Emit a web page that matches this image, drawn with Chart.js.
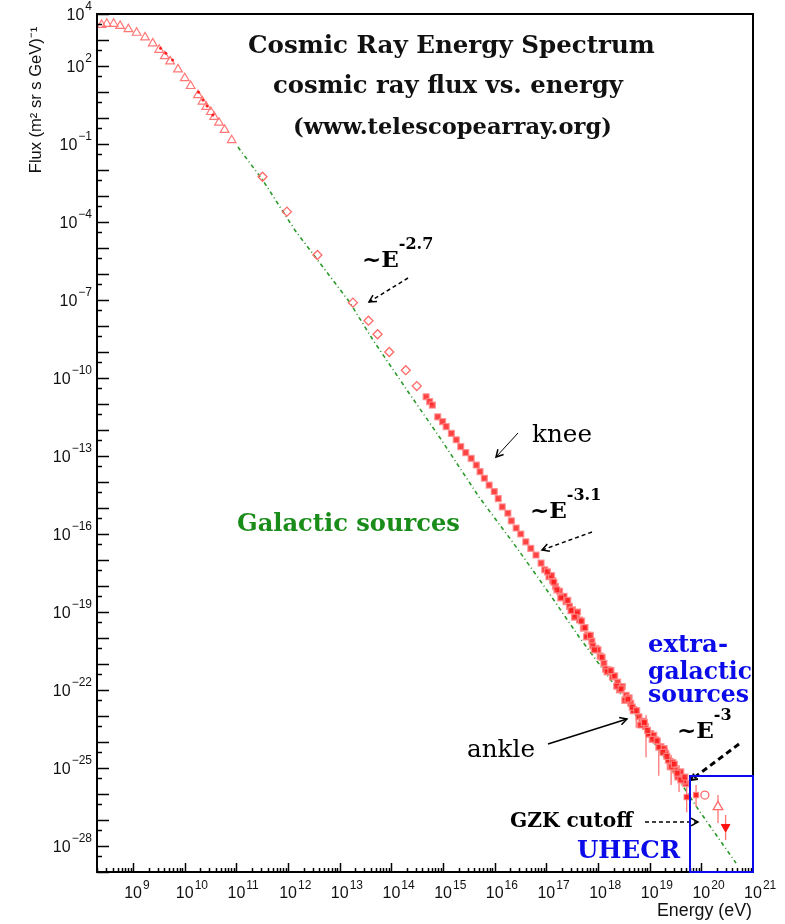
<!DOCTYPE html>
<html>
<head>
<meta charset="utf-8">
<title>Cosmic Ray Energy Spectrum</title>
<script src="https://cdn.jsdelivr.net/npm/chart.js@4.4.1/dist/chart.umd.min.js"></script>
<style>
  html, body { margin: 0; padding: 0; background: #fff; }
  #chart { display: block; }
</style>
</head>
<body>
<canvas id="chart" width="785" height="924"></canvas>
<script>
// ----- DATA (energy in eV, flux in (m^2 sr s GeV)^-1) ----- //
const lowE = [2.45e8, 3.1e8, 4.2e8, 5.6e8, 8.1e8, 1.17e9, 1.7e9, 2.4e9, 3.2e9, 4.1e9, 5.2e9,
              7.4e9, 1.0e10, 1.3e10, 1.8e10, 2.2e10, 2.6e10, 3.2e10, 3.7e10, 4.6e10, 5.9e10, 8.1e10];
const lowFlux = [3.8e3, 4.2e3, 4.2e3, 3.5e3, 2.6e3, 1.9e3, 1.26e3, 7.4e2, 4.2e2, 2.4e2, 1.5e2,
                 74, 34, 17, 7.6, 4.3, 2.7, 1.7, 1.1, 0.66, 0.35, 0.14];

const dotE = [3.4e9, 4.3e9, 5.8e9, 1.85e10, 2.25e10, 2.7e10, 3.5e10];
const dotFlux = [4.8e2, 3.1e2, 1.7e2, 9.8, 4.9, 2.9, 1.3];

const directE = [3.2e11, 9.5e11, 3.7e12, 1.8e13, 3.6e13, 5.4e13, 9.1e13, 1.9e14, 3.1e14];
const directFlux = [5.5e-3, 2.5e-4, 5.4e-6, 7.9e-8, 1.6e-8, 4.8e-9, 1.0e-9, 2.0e-10, 4.9e-11];

const airE = [4.7e14, 5.5e14, 6.2e14, 7.9e14, 9.8e14, 1.15e15, 1.45e15, 1.8e15, 2.2e15, 2.75e15,
              3.5e15, 4.4e15, 5.2e15, 6.3e15, 7.8e15, 9.8e15, 1.17e16, 1.4e16, 1.8e16, 2.1e16,
              2.6e16, 3.2e16, 4.0e16, 5.0e16, 6.3e16, 7.9e16, 9.3e16, 1.12e17, 1.32e17, 1.5e17,
              1.8e17, 2.05e17, 2.4e17, 2.8e17, 3.2e17, 3.8e17, 4.4e17, 5.2e17, 6.3e17, 7.6e17,
              9.1e17, 1.1e18, 1.3e18, 1.6e18, 1.9e18, 2.4e18, 2.95e18, 3.5e18, 4.3e18, 5.1e18,
              6.2e18, 7.1e18, 8.3e18, 1.05e19, 1.3e19, 1.65e19, 2.05e19, 2.5e19, 3.2e19, 3.7e19,
              4.3e19, 5.0e19,
              1.26e17, 1.6e17, 2.2e17, 3.0e17, 4.0e17, 5.6e17, 7.9e17, 1.0e18, 1.4e18, 2.1e18,
              2.6e18, 4.0e18, 4.8e18, 7.6e18, 9.5e18, 1.2e19, 1.5e19, 1.9e19, 2.3e19, 2.8e19,
              3.5e19, 4.0e19, 4.6e19,
              1.05e17, 1.4e17, 1.9e17, 2.6e17, 3.5e17, 4.8e17, 6.0e17, 7.1e17, 8.5e17, 1.2e18,
              1.5e18, 1.78e18, 2.3e18, 2.8e18, 3.3e18, 3.8e18, 4.6e18, 5.6e18, 6.6e18, 7.9e18,
              9.1e18, 1.12e19, 1.4e19, 1.8e19, 2.15e19, 2.6e19, 3.0e19, 3.4e19, 4.0e19, 4.8e19];
const airFlux = [1.9e-11, 1.23e-11, 9.1e-12, 3.2e-12, 2.1e-12, 1.35e-12, 7.4e-13, 4.2e-13, 2.3e-13, 1.35e-13,
                 8.1e-14, 4.5e-14, 2.5e-14, 1.4e-14, 7.6e-15, 4.3e-15, 2.3e-15, 1.1e-15, 6.3e-16, 3.2e-16,
                 1.7e-16, 1.0e-16, 5.0e-17, 2.8e-17, 1.55e-17, 7.6e-18, 4.2e-18, 2.3e-18, 1.6e-18, 9.5e-19,
                 6.3e-19, 3.9e-19, 2.5e-19, 1.65e-19, 1.2e-19, 7.9e-20, 4.9e-20, 2.4e-20, 1.3e-20, 7.6e-21,
                 4.0e-21, 2.0e-21, 1.07e-21, 6.0e-22, 3.2e-22, 2.0e-22, 1.35e-22, 6.3e-23, 3.1e-23, 1.66e-23,
                 9.3e-24, 6.0e-24, 3.9e-24, 2.1e-24, 1.2e-24, 6.6e-25, 3.7e-25, 1.8e-25, 8.3e-26, 5.6e-26,
                 4.0e-26, 2.5e-26,
                 2.5e-18, 7.1e-19, 4.0e-19, 1.12e-19, 1.0e-19, 2.5e-20, 5.0e-21, 3.5e-21, 6.3e-22, 3.5e-22,
                 1.0e-22, 5.0e-23, 1.6e-23, 6.3e-24, 2.0e-24, 1.8e-24, 6.3e-25, 5.6e-25, 2.0e-25, 1.6e-25,
                 4.5e-26, 7.1e-26, 3.2e-26,
                 3.5e-18, 1.4e-18, 3.5e-19, 2.8e-19, 6.3e-20, 4.5e-20, 1.1e-20, 1.26e-20, 3.5e-21, 1.8e-21,
                 5.0e-22, 5.6e-22, 1.4e-22, 1.1e-22, 4.0e-23, 4.5e-23, 2.2e-23, 1.6e-23, 4.5e-24, 5.6e-24,
                 2.8e-24, 1.26e-24, 1.1e-24, 4.0e-25, 2.8e-25, 1.1e-25, 1.4e-25, 6.3e-26, 3.5e-26, 4.5e-26];

// highest energy points (UHECR)
const uhecrE = [5.2e19, 7.9e19];
const uhecrFlux = [7.6e-27, 9.1e-27];
const ringE = [1.17e20];
const ringFlux = [9.1e-27];
const upE = [2.1e20];
const upFlux = [3.2e-27];
const downE = [2.95e20];
const downFlux = [5.4e-28];

// vertical error bars
const errE = [5.5e18, 8.5e18, 1.5e19, 2.2e19, 2.6e19, 3.7e19, 5.2e19, 7.9e19, 2.1e20, 2.95e20];
const errHigh = [2.4e-23, 1.1e-23, 7.1e-25, 5.9e-25, 3.2e-25, 1.3e-25, 2.6e-26, 2.2e-26, 9.1e-27, 1.55e-27];
const errLow = [3.5e-24, 2.6e-25, 5.0e-26, 8.3e-26, 2.2e-26, 1.2e-26, 2.0e-27, 3.2e-27, 7.6e-28, 1.7e-28];

// galactic power-law reference (green dash-dot)
const fitE = [1.07e11, 3.2e11, 1.35e12, 1.55e13, 4.4e13, 2.2e14, 8.5e14, 5.0e15, 2.6e16, 1.12e17,
              4.3e17, 1.6e18, 6.2e18, 8.1e19, 2.5e20, 4.7e20];
const fitFlux = [7.6e-2, 4.2e-3, 4.9e-5, 8.3e-8, 2.9e-9, 2.6e-11, 5.4e-13, 2.6e-15, 3.2e-17, 5.4e-19,
                 1.1e-20, 3.2e-22, 7.1e-24, 3.2e-27, 1.3e-28, 2.2e-29];

// axis ranges and tick labels (powers of ten)
const xRange = [2e8, 1e21];
const yRange = [1e-29, 1e4];
const xTickExponents = [9, 10, 11, 12, 13, 14, 15, 16, 17, 18, 19, 20, 21];
const yTickExponents = [4, 2, -1, -4, -7, -10, -13, -16, -19, -22, -25, -28];

// ----- HELPERS ----- //
const pts = (xs, ys) => xs.map((x, i) => ({ x: x, y: ys[i] }));

function errorSegments() {
    const out = [];
    errE.forEach((e, i) => {
        out.push({ x: e, y: errHigh[i] }, { x: e, y: errLow[i] }, { x: e, y: null });
    });
    return out;
}

function fitFont(ctx, text, style, family, width) {
    ctx.font = style + ' 100px ' + family;
    const w = ctx.measureText(text).width;
    return style + ' ' + (100 * width / w).toFixed(2) + 'px ' + family;
}

function expText(n) {
    return n < 0 ? '\u2212' + Math.abs(n) : String(n);
}

function arrow(ctx, x1, y1, x2, y2, opt) {
    ctx.save();
    ctx.strokeStyle = opt.color || '#000';
    ctx.lineWidth = opt.width || 1.5;
    ctx.setLineDash(opt.dash || []);
    ctx.beginPath();
    ctx.moveTo(x1, y1);
    ctx.lineTo(x2, y2);
    ctx.stroke();
    ctx.setLineDash([]);
    const ang = Math.atan2(y2 - y1, x2 - x1);
    const h = opt.head || 8;
    ctx.lineWidth = opt.headWidth || 1.5;
    ctx.beginPath();
    ctx.moveTo(x2 - h * Math.cos(ang - 0.5), y2 - h * Math.sin(ang - 0.5));
    ctx.lineTo(x2, y2);
    ctx.lineTo(x2 - h * Math.cos(ang + 0.5), y2 - h * Math.sin(ang + 0.5));
    ctx.stroke();
    ctx.restore();
}

// "~E" with a superscript exponent
function powerLabel(ctx, x, base, exp, size) {
    ctx.font = 'bold ' + size + 'px "DejaVu Serif"';
    ctx.fillStyle = '#000';
    ctx.textAlign = 'left';
    ctx.textBaseline = 'alphabetic';
    ctx.fillText('~E', x, base);
    const w = ctx.measureText('~E').width;
    ctx.font = 'bold ' + Math.round(size * 0.68) + 'px "DejaVu Serif"';
    ctx.fillText(exp, x + w, base - size * 0.78);
}

function fitText(ctx, text, left, right, base, style, family, color) {
    ctx.font = fitFont(ctx, text, style, family, right - left);
    ctx.fillStyle = color;
    ctx.textAlign = 'left';
    ctx.textBaseline = 'alphabetic';
    ctx.fillText(text, left, base);
}

// ----- AXES, FRAME AND ANNOTATIONS ----- //
const overlay = {
    id: 'overlay',
    afterDraw(chart) {
        const ctx = chart.ctx;
        const a = chart.chartArea;
        const xs = chart.scales.x;
        const ys = chart.scales.y;
        ctx.save();

        // inward ticks
        ctx.strokeStyle = '#000';
        ctx.lineWidth = 1.5;
        for (let n = 8; n <= 20; n++) {
            for (let k = 1; k <= 9; k++) {
                const v = k * Math.pow(10, n);
                if (v < xRange[0] || v > xRange[1]) continue;
                const px = Math.round(xs.getPixelForValue(v)) + 0.5;
                const len = k === 1 ? 9 : 4;
                ctx.beginPath();
                ctx.moveTo(px, a.bottom);
                ctx.lineTo(px, a.bottom - len);
                ctx.stroke();
            }
        }
        for (let n = 4; n >= -29; n--) {
            const py = Math.round(ys.getPixelForValue(Math.pow(10, n))) + 0.5;
            ctx.beginPath();
            ctx.moveTo(a.left, py);
            ctx.lineTo(a.left + 12, py);
            ctx.stroke();
            const v2 = 0.4 * Math.pow(10, n);
            if (v2 > yRange[0]) {
                const py2 = Math.round(ys.getPixelForValue(v2)) + 0.5;
                ctx.beginPath();
                ctx.moveTo(a.left, py2);
                ctx.lineTo(a.left + 5, py2);
                ctx.stroke();
            }
        }

        // frame
        ctx.lineWidth = 2;
        ctx.strokeRect(a.left, a.top, a.right - a.left, a.bottom - a.top);

        // tick labels
        ctx.fillStyle = '#111';
        ctx.textBaseline = 'alphabetic';
        const big = '16px "Liberation Sans"';
        const small = '12px "Liberation Sans"';
        xTickExponents.forEach(n => {
            const px = xs.getPixelForValue(Math.pow(10, n));
            ctx.font = big;
            const tw = ctx.measureText('10').width;
            ctx.textAlign = 'left';
            ctx.fillText('10', px - tw / 2, a.bottom + 26);
            ctx.font = small;
            ctx.fillText(expText(n), px + tw / 2 + 1, a.bottom + 17);
        });
        yTickExponents.forEach(n => {
            const py = ys.getPixelForValue(Math.pow(10, n));
            ctx.font = small;
            const ew = ctx.measureText(expText(n)).width;
            ctx.font = big;
            const tw = ctx.measureText('10').width;
            ctx.textAlign = 'left';
            const right = a.left - 5;
            ctx.fillText('10', right - ew - tw - 1, py + 6);
            ctx.font = small;
            ctx.fillText(expText(n), right - ew, py - 4);
        });

        // axis titles
        ctx.save();
        ctx.translate(41, 100);
        ctx.rotate(-Math.PI / 2);
        const yTitle = 'Flux (m\u00b2 sr s GeV)\u207b\u00b9';
        ctx.font = fitFont(ctx, yTitle, 'normal', '"Liberation Sans"', 146);
        ctx.textAlign = 'center';
        ctx.fillStyle = '#111';
        ctx.fillText(yTitle, 0, 0);
        ctx.restore();
        fitText(ctx, 'Energy (eV)', 657, 752, 916, 'normal', '"Liberation Sans"', '#111');

        // titles
        const serif = '"DejaVu Serif"';
        fitText(ctx, 'Cosmic Ray Energy Spectrum', 248, 655, 53, 'bold', serif, '#111');
        fitText(ctx, 'cosmic ray flux vs. energy', 273, 623, 93, 'bold', serif, '#111');
        fitText(ctx, '(www.telescopearray.org)', 293, 612, 134, 'bold', serif, '#111');

        // spectral annotations
        powerLabel(ctx, 362, 267, '-2.7', 23);
        arrow(ctx, 408, 278, 369, 302, { dash: [4, 3] });
        fitText(ctx, 'knee', 532, 592, 442, 'normal', serif, '#000');
        arrow(ctx, 518, 433, 496, 457, { width: 1 });
        powerLabel(ctx, 530, 518, '-3.1', 23);
        arrow(ctx, 592, 532, 542, 550, { dash: [4, 3] });
        fitText(ctx, 'Galactic sources', 237, 460, 531, 'bold', serif, '#1a8c1a');
        fitText(ctx, 'ankle', 467, 535, 757, 'normal', serif, '#000');
        arrow(ctx, 548, 744, 627, 719, { width: 1.5 });
        fitText(ctx, 'extra-', 648, 728, 652, 'bold', serif, '#0b0bea');
        fitText(ctx, 'galactic', 648, 752, 679, 'bold', serif, '#0b0bea');
        fitText(ctx, 'sources', 648, 749, 702, 'bold', serif, '#0b0bea');
        powerLabel(ctx, 677, 738, '-3', 23);
        arrow(ctx, 739, 744, 691, 780, { dash: [6, 4], width: 3, head: 7, headWidth: 2 });
        fitText(ctx, 'GZK cutoff', 510, 633, 827, 'bold', serif, '#000');
        arrow(ctx, 645, 822, 698, 822, { dash: [4, 3] });
        fitText(ctx, 'UHECR', 577, 680, 858, 'bold', serif, '#0b0bea');

        // UHECR box
        ctx.strokeStyle = '#0b0bea';
        ctx.lineWidth = 2;
        ctx.strokeRect(690, 776, a.right - 690, a.bottom - 776);

        ctx.restore();
    }
};

// ----- CHART ----- //
const pink = 'rgba(255, 110, 110, 0.95)';
const ctx = document.getElementById('chart').getContext('2d');
new Chart(ctx, {
    type: 'scatter',
    data: {
        datasets: [
            {
                label: 'Galactic power law',
                data: pts(fitE, fitFlux),
                showLine: true,
                borderColor: '#2a9a2a',
                borderWidth: 1.6,
                borderDash: [4, 3, 1, 3],
                pointRadius: 0,
                order: 10
            },
            {
                label: 'errors',
                data: errorSegments(),
                showLine: true,
                spanGaps: false,
                borderColor: pink,
                borderWidth: 1.3,
                pointRadius: 0,
                order: 9
            },
            {
                label: 'direct (low energy)',
                data: pts(lowE, lowFlux),
                pointStyle: 'triangle',
                pointRadius: 5,
                borderColor: '#ff7878',
                backgroundColor: 'rgba(255,255,255,0)',
                borderWidth: 1.2,
                order: 5
            },
            {
                label: 'dots',
                data: pts(dotE, dotFlux),
                pointStyle: 'circle',
                pointRadius: 1.5,
                borderColor: '#ff2020',
                backgroundColor: '#ff2020',
                borderWidth: 0,
                order: 4
            },
            {
                label: 'direct (high energy)',
                data: pts(directE, directFlux),
                pointStyle: 'rectRot',
                pointRadius: 4.5,
                borderColor: '#ff6a6a',
                backgroundColor: 'rgba(255,255,255,0)',
                borderWidth: 1.3,
                order: 5
            },
            {
                label: 'air showers',
                data: pts(airE, airFlux),
                pointStyle: 'rect',
                pointRadius: 4.2,
                borderColor: 'rgba(255, 140, 140, 0.85)',
                backgroundColor: 'rgba(255, 20, 20, 0.8)',
                borderWidth: 1.2,
                order: 6
            },
            {
                label: 'UHECR',
                data: pts(uhecrE, uhecrFlux),
                pointStyle: 'rect',
                pointRadius: 3.8,
                borderColor: 'rgba(255, 130, 130, 0.9)',
                backgroundColor: 'rgba(255, 20, 20, 0.9)',
                borderWidth: 1,
                order: 3
            },
            {
                label: 'UHECR ring',
                data: pts(ringE, ringFlux),
                pointStyle: 'circle',
                pointRadius: 4,
                borderColor: '#ff6a6a',
                backgroundColor: 'rgba(255,255,255,0)',
                borderWidth: 1.3,
                order: 3
            },
            {
                label: 'UHECR up',
                data: pts(upE, upFlux),
                pointStyle: 'triangle',
                pointRadius: 5.5,
                borderColor: '#ff6a6a',
                backgroundColor: '#ffffff',
                borderWidth: 1.3,
                order: 3
            },
            {
                label: 'UHECR down',
                data: pts(downE, downFlux),
                pointStyle: 'triangle',
                rotation: 180,
                pointRadius: 5,
                borderColor: '#ff1010',
                backgroundColor: '#ff1010',
                borderWidth: 1,
                order: 3
            }
        ]
    },
    options: {
        responsive: false,
        animation: false,
        devicePixelRatio: 1,
        layout: { padding: { left: 97, right: 32, top: 14, bottom: 52 } },
        scales: {
            x: { type: 'logarithmic', display: false, min: xRange[0], max: xRange[1] },
            y: { type: 'logarithmic', display: false, min: yRange[0], max: yRange[1] }
        },
        plugins: {
            legend: { display: false },
            tooltip: { enabled: false }
        }
    },
    plugins: [overlay]
});
</script>
</body>
</html>
